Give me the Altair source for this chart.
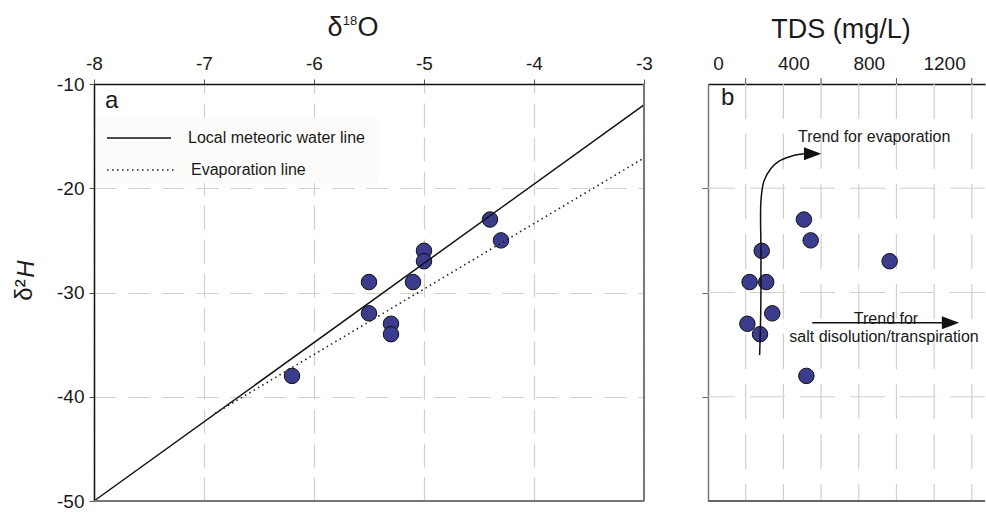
import altair as alt
import pandas as pd

# ---------------- data ----------------
d18o = [-5.5, -5.5, -5.3, -5.3, -6.2, -5.1, -5.0, -5.0, -4.4, -4.3]
d2h_a = [-29, -32, -33, -34, -38, -29, -26, -27, -23, -25]

tds = [221, 309, 341, 209, 276, 522, 285, 964, 509, 545]
d2h_b = [-29, -29, -32, -33, -34, -38, -26, -27, -23, -25]

lmwl_x = [-8.0, -3.0]
lmwl_y = [-50.0, -12.0]
evap_x = [-6.9, -3.0]
evap_y = [-41.6, -17.1]

evap_trend_tds = [274, 279, 281, 281, 281, 297, 334, 377, 446, 509]
evap_trend_h = [-36.0, -32.7, -29.9, -26.0, -21.2, -19.3, -18.1, -17.4, -16.9, -16.7]
salt_trend_tds = [553, 1250]
salt_trend_h = [-32.9, -32.9]
arrow_tds = [555, 1287]
arrow_h = [-16.7, -32.9]

x_ticks_a = [-8, -7, -6, -5, -4, -3]
y_ticks = [-50, -40, -30, -20, -10]
tds_labels = [0, 400, 800, 1200]
tds_ticks = [200, 600, 1000, 1400]
tds_grid = [200, 400, 600, 800, 1000, 1200, 1400]
h_grid = [-20, -30, -40]

# ---------------- style ----------------
FONT = "Liberation Sans"
GRID = "#d6cec7"
FILL = "#3b3c8d"
W_A, H = 550, 417
W_B = 277


def XA():
    return alt.X("x:Q", scale=alt.Scale(domain=[-8, -3], nice=False, zero=False),
                 axis=alt.Axis(orient="top", values=x_ticks_a, title=None,
                               labelExpr="'' + datum.value", labelFlush=False,
                               tickSize=5, labelPadding=6, grid=True,
                               gridDash=[24, 10], gridColor=GRID, gridWidth=1.2,
                               domainColor="#111", domainWidth=1.5,
                               tickColor="#555", labelFontSize=19))


def YA():
    return alt.Y("y:Q", scale=alt.Scale(domain=[-50, -10], nice=False, zero=False),
                 axis=alt.Axis(orient="left", values=y_ticks, title=None,
                               labelExpr="'' + datum.value", labelFlush=False,
                               tickSize=5, labelPadding=5, grid=True,
                               gridDash=[22, 12], gridColor=GRID, gridWidth=1.2,
                               domainColor="#111", domainWidth=1.5,
                               tickColor="#555", labelFontSize=19))


def XB():
    return alt.X("x:Q", scale=alt.Scale(domain=[0, 1470], nice=False, zero=False),
                 axis=alt.Axis(orient="top", values=tds_labels, title=None,
                               labelExpr="'' + datum.value", labelFlush=False,
                               labelOffset=10, tickSize=0, labelPadding=11,
                               grid=False, domainColor="#111", domainWidth=1.5,
                               labelFontSize=19))


def YB():
    return alt.Y("y:Q", scale=alt.Scale(domain=[-50, -10], nice=False, zero=False),
                 axis=alt.Axis(orient="left", values=h_grid, title=None,
                               labels=False, tickSize=6, tickColor="#666",
                               grid=False, domainColor="#777", domainWidth=1.5))


def one(label):
    return alt.Chart(pd.DataFrame({"t": [label]}))


def txt(label, x, y, size, align="left", baseline="middle", angle=0, style="normal"):
    kw = dict(font=FONT, fontSize=size, align=align, baseline=baseline,
              color="#1a1a1a", fontStyle=style)
    if angle:
        kw["angle"] = angle
    return one(label).mark_text(**kw).encode(
        text="t:N", x=alt.value(x), y=alt.value(y))


# ---------------- panel a ----------------
pts_a = pd.DataFrame({"x": d18o, "y": d2h_a})
lmwl = pd.DataFrame({"x": lmwl_x, "y": lmwl_y})
evap = pd.DataFrame({"x": evap_x, "y": evap_y})

points_a = alt.Chart(pts_a).mark_point(
    shape="circle", filled=True, fill=FILL, stroke="#111", strokeWidth=1,
    size=240, opacity=1).encode(x=XA(), y=YA())
line_lmwl = alt.Chart(lmwl).mark_line(color="#111", strokeWidth=1.5).encode(x=XA(), y=YA())
line_evap = alt.Chart(evap).mark_line(color="#222", strokeWidth=1.6,
                                      strokeDash=[1.5, 3.5]).encode(x=XA(), y=YA())

legend_box = one("box").mark_rect(fill="#fcfbf9").encode(
    x=alt.value(2), x2=alt.value(285), y=alt.value(34), y2=alt.value(99))
leg_solid = one("s").mark_rule(color="#111", strokeWidth=1.5).encode(
    x=alt.value(13), x2=alt.value(77), y=alt.value(54))
leg_dot = one("d").mark_rule(color="#222", strokeWidth=1.5, strokeDash=[1.5, 3.5]).encode(
    x=alt.value(13), x2=alt.value(80), y=alt.value(86))

border_a_r = one("r").mark_rule(color="#777", strokeWidth=2).encode(
    x=alt.value(W_A), y=alt.value(0), y2=alt.value(H))
border_a_b = one("b").mark_rule(color="#777", strokeWidth=2).encode(
    x=alt.value(0), x2=alt.value(W_A), y=alt.value(H))

panel_a = alt.layer(
    legend_box,
    points_a,
    line_lmwl,
    line_evap,
    leg_solid,
    leg_dot,
    txt("Local meteoric water line", 94, 54, 16),
    txt("Evaporation line", 97, 86, 16),
    txt("a", 11, 17, 24),
    txt("δ", 241, -48, 27, align="center", baseline="alphabetic"),
    txt("18", 256, -59, 13, align="center", baseline="alphabetic"),
    txt("O", 274, -48, 27, align="center", baseline="alphabetic"),
    txt("δ²", -69, 206, 24, align="center", angle=270),
    txt("H", -67, 185, 24, align="center", angle=270, style="italic"),
    border_a_r,
    border_a_b,
).properties(width=W_A, height=H)

# ---------------- panel b ----------------
pts_b = pd.DataFrame({"x": tds, "y": d2h_b})
vgrid = pd.DataFrame({"x": tds_grid})
hgrid = pd.DataFrame({"y": h_grid})
tick_df = pd.DataFrame({"x": tds_ticks})
curve = pd.DataFrame({"x": evap_trend_tds, "y": evap_trend_h,
                      "i": list(range(len(evap_trend_tds)))})
salt = pd.DataFrame({"x": salt_trend_tds, "y": salt_trend_h, "i": [0, 1]})
heads = pd.DataFrame({"x": arrow_tds, "y": arrow_h})

vgrid_l = alt.Chart(vgrid).mark_rule(color=GRID, strokeWidth=1.2,
                                     strokeDash=[35, 15]).encode(x=XB())
hgrid_l = alt.Chart(hgrid).mark_rule(color=GRID, strokeWidth=1.2,
                                     strokeDash=[35, 15]).encode(y=YB())
ticks_l = alt.Chart(tick_df).mark_rule(color="#555", strokeWidth=1).encode(
    x=XB(), y=alt.value(-6), y2=alt.value(0))
points_b = alt.Chart(pts_b).mark_point(
    shape="circle", filled=True, fill=FILL, stroke="#111", strokeWidth=1,
    size=240, opacity=1).encode(x=XB(), y=YB())
curve_l = alt.Chart(curve).mark_line(color="#111", strokeWidth=1.5,
                                     interpolate="catmull-rom").encode(
    x=XB(), y=YB(), order="i:Q")
salt_l = alt.Chart(salt).mark_line(color="#111", strokeWidth=1.5).encode(
    x=XB(), y=YB(), order="i:Q")
heads_l = alt.Chart(heads).mark_point(
    shape="M-1,-0.75L1,0L-1,0.75Z", filled=True, fill="#111", strokeWidth=0,
    size=300, opacity=1).encode(x=XB(), y=YB())
border_b_b = one("b").mark_rule(color="#666", strokeWidth=2).encode(
    x=alt.value(0), x2=alt.value(W_B), y=alt.value(H))

panel_b = alt.layer(
    vgrid_l,
    hgrid_l,
    ticks_l,
    points_b,
    curve_l,
    salt_l,
    heads_l,
    txt("b", 13, 14, 24),
    txt("Trend for evaporation", 90, 53, 16),
    txt("Trend for", 178, 235, 16, align="center"),
    txt("salt disolution/transpiration", 176, 253, 16, align="center"),
    txt("TDS (mg/L)", 133, -46, 27, align="center", baseline="alphabetic"),
    border_b_b,
).properties(width=W_B, height=H)

chart = alt.hconcat(panel_a, panel_b, spacing=64, bounds="flush").properties(
    padding={"left": 13, "top": 14, "right": 0, "bottom": 0},
    background="white",
).configure_view(stroke=None).configure_axis(
    labelFont=FONT, labelColor="#1a1a1a")

chart.save("out.html", embed_options={"renderer": "svg", "actions": False})
